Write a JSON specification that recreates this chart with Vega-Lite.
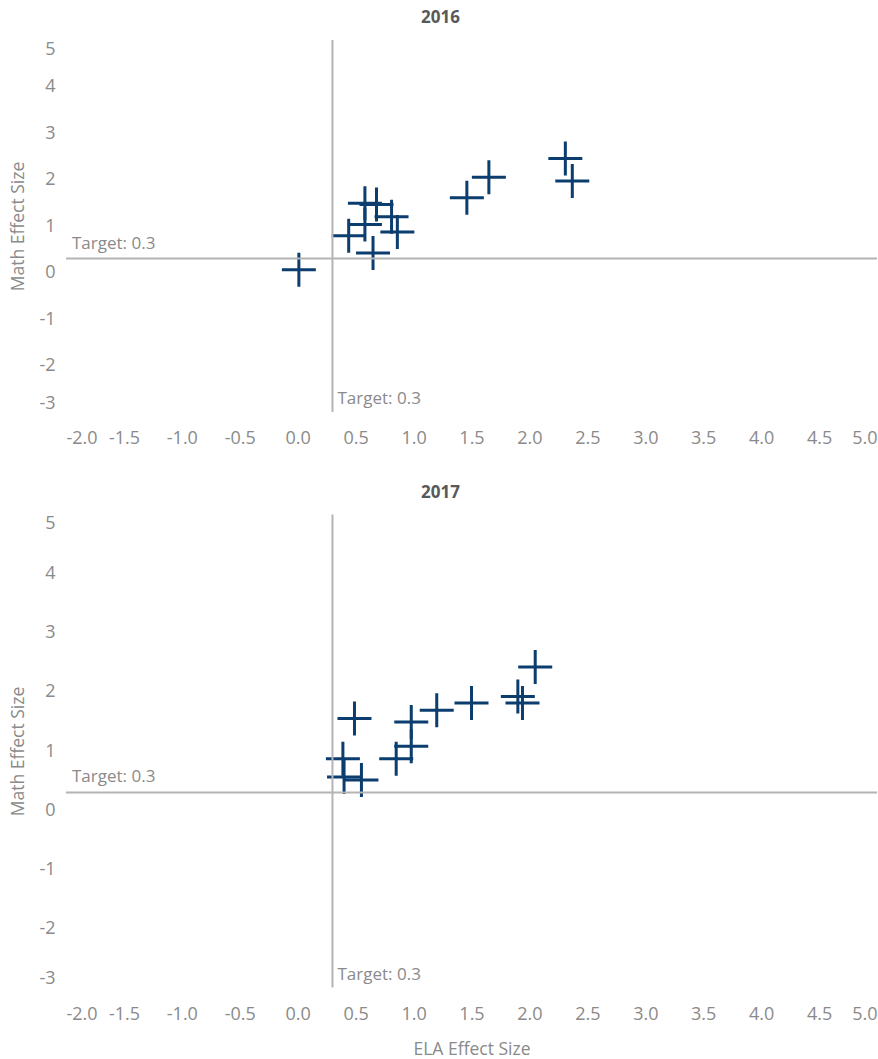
{
  "$schema": "https://vega.github.io/schema/vega-lite/v6.json",
  "padding": {"left": 9, "top": 9, "right": 0, "bottom": 0},
  "background": "white",
  "spacing": 35.5,
  "config": {
    "view": {"stroke": null},
    "font": "Open Sans",
    "axis": {"grid": false, "domain": false, "ticks": false, "tickSize": 0, "labelColor": "#8a8a8a", "labelFontSize": 18, "labelFont": "Open Sans", "titleColor": "#8a8a8a", "titleFontSize": 17.5, "titleFont": "Open Sans", "titleFontWeight": "normal"},
    "title": {"fontSize": 17, "fontWeight": "bold", "color": "#595959", "font": "Open Sans", "baseline": "alphabetic", "offset": 12, "dx": -31}
  },
  "datasets": {
    "pts": [
      {"year": 2016, "ela": 0.01, "math": 0.06},
      {"year": 2016, "ela": 0.44, "math": 0.79},
      {"year": 2016, "ela": 0.58, "math": 1.03},
      {"year": 2016, "ela": 0.58, "math": 1.49},
      {"year": 2016, "ela": 0.68, "math": 1.46},
      {"year": 2016, "ela": 0.81, "math": 1.2},
      {"year": 2016, "ela": 0.86, "math": 0.87},
      {"year": 2016, "ela": 0.65, "math": 0.42},
      {"year": 2016, "ela": 1.46, "math": 1.61},
      {"year": 2016, "ela": 1.65, "math": 2.05},
      {"year": 2016, "ela": 2.31, "math": 2.45},
      {"year": 2016, "ela": 2.37, "math": 1.97},
      {"year": 2017, "ela": 0.49, "math": 1.55},
      {"year": 2017, "ela": 0.39, "math": 0.87},
      {"year": 2017, "ela": 0.4, "math": 0.56},
      {"year": 2017, "ela": 0.55, "math": 0.51},
      {"year": 2017, "ela": 0.85, "math": 0.87},
      {"year": 2017, "ela": 0.98, "math": 1.49},
      {"year": 2017, "ela": 0.98, "math": 1.08},
      {"year": 2017, "ela": 1.2, "math": 1.69},
      {"year": 2017, "ela": 1.5, "math": 1.81},
      {"year": 2017, "ela": 1.9, "math": 1.92},
      {"year": 2017, "ela": 1.94, "math": 1.81},
      {"year": 2017, "ela": 2.05, "math": 2.42}
    ],
    "targets": [{"target": 0.3, "label": "Target: 0.3"}]
  },
  "vconcat": [
    {
      "title": "2016",
      "width": 811,
      "height": 372,
      "layer": [
        {
          "data": {"name": "pts"},
          "transform": [{"filter": "datum.year == 2016"}],
          "mark": {"type": "point", "shape": "M-1,0H1M0,-1V1", "size": 1156, "filled": false, "strokeWidth": 3, "color": "#0b3d6e", "opacity": 1},
          "encoding": {
            "x": {"field": "ela", "type": "quantitative", "title": null, "scale": {"domain": [-2, 5], "nice": false, "zero": false}, "axis": {"values": [-2, -1.5, -1, -0.5, 0, 0.5, 1, 1.5, 2, 2.5, 3, 3.5, 4, 4.5, 5], "format": ".1f", "labelExpr": "replace(datum.label, '−', '-')", "labelFlush": true, "labelPadding": 17.5}},
            "y": {"field": "math", "type": "quantitative", "title": "Math Effect Size", "scale": {"domain": [-3, 5], "nice": false, "zero": false}, "axis": {"values": [-3, -2, -1, 0, 1, 2, 3, 4, 5], "format": "d", "labelExpr": "replace(datum.label, '−', '-')", "labelFlush": true, "labelPadding": 11, "minExtent": 30, "maxExtent": 30, "titlePadding": 9}}
          }
        },
        {
          "data": {"name": "targets"},
          "mark": {"type": "rule", "color": "#b4b4b4", "strokeWidth": 2},
          "encoding": {"x": {"field": "target", "type": "quantitative", "title": null}}
        },
        {
          "data": {"name": "targets"},
          "mark": {"type": "rule", "color": "#b4b4b4", "strokeWidth": 2},
          "encoding": {"y": {"field": "target", "type": "quantitative", "title": "Math Effect Size"}}
        },
        {
          "data": {"name": "targets"},
          "mark": {"type": "text", "align": "left", "baseline": "bottom", "dx": 6, "dy": -6, "fontSize": 17, "color": "#8a8a8a"},
          "encoding": {
            "x": {"datum": -2, "type": "quantitative", "title": null},
            "y": {"field": "target", "type": "quantitative", "title": "Math Effect Size"},
            "text": {"field": "label"}
          }
        },
        {
          "data": {"name": "targets"},
          "mark": {"type": "text", "align": "left", "baseline": "bottom", "dx": 5, "dy": -4, "fontSize": 17, "color": "#8a8a8a"},
          "encoding": {
            "x": {"field": "target", "type": "quantitative", "title": null},
            "y": {"datum": -3, "type": "quantitative", "title": "Math Effect Size"},
            "text": {"field": "label"}
          }
        }
      ]
    },
    {
      "title": "2017",
      "width": 811,
      "height": 473,
      "layer": [
        {
          "data": {"name": "pts"},
          "transform": [{"filter": "datum.year == 2017"}],
          "mark": {"type": "point", "shape": "M-1,0H1M0,-1V1", "size": 1156, "filled": false, "strokeWidth": 3, "color": "#0b3d6e", "opacity": 1},
          "encoding": {
            "x": {"field": "ela", "type": "quantitative", "title": "ELA Effect Size", "scale": {"domain": [-2, 5], "nice": false, "zero": false}, "axis": {"values": [-2, -1.5, -1, -0.5, 0, 0.5, 1, 1.5, 2, 2.5, 3, 3.5, 4, 4.5, 5], "format": ".1f", "labelExpr": "replace(datum.label, '−', '-')", "labelFlush": true, "labelPadding": 17.5, "titlePadding": 17}},
            "y": {"field": "math", "type": "quantitative", "title": "Math Effect Size", "scale": {"domain": [-3, 5], "nice": false, "zero": false}, "axis": {"values": [-3, -2, -1, 0, 1, 2, 3, 4, 5], "format": "d", "labelExpr": "replace(datum.label, '−', '-')", "labelFlush": true, "labelPadding": 11, "minExtent": 30, "maxExtent": 30, "titlePadding": 9}}
          }
        },
        {
          "data": {"name": "targets"},
          "mark": {"type": "rule", "color": "#b4b4b4", "strokeWidth": 2},
          "encoding": {"x": {"field": "target", "type": "quantitative", "title": "ELA Effect Size"}}
        },
        {
          "data": {"name": "targets"},
          "mark": {"type": "rule", "color": "#b4b4b4", "strokeWidth": 2},
          "encoding": {"y": {"field": "target", "type": "quantitative", "title": "Math Effect Size"}}
        },
        {
          "data": {"name": "targets"},
          "mark": {"type": "text", "align": "left", "baseline": "bottom", "dx": 6, "dy": -6, "fontSize": 17, "color": "#8a8a8a"},
          "encoding": {
            "x": {"datum": -2, "type": "quantitative", "title": "ELA Effect Size"},
            "y": {"field": "target", "type": "quantitative", "title": "Math Effect Size"},
            "text": {"field": "label"}
          }
        },
        {
          "data": {"name": "targets"},
          "mark": {"type": "text", "align": "left", "baseline": "bottom", "dx": 5, "dy": -4, "fontSize": 17, "color": "#8a8a8a"},
          "encoding": {
            "x": {"field": "target", "type": "quantitative", "title": "ELA Effect Size"},
            "y": {"datum": -3, "type": "quantitative", "title": "Math Effect Size"},
            "text": {"field": "label"}
          }
        }
      ]
    }
  ]
}
